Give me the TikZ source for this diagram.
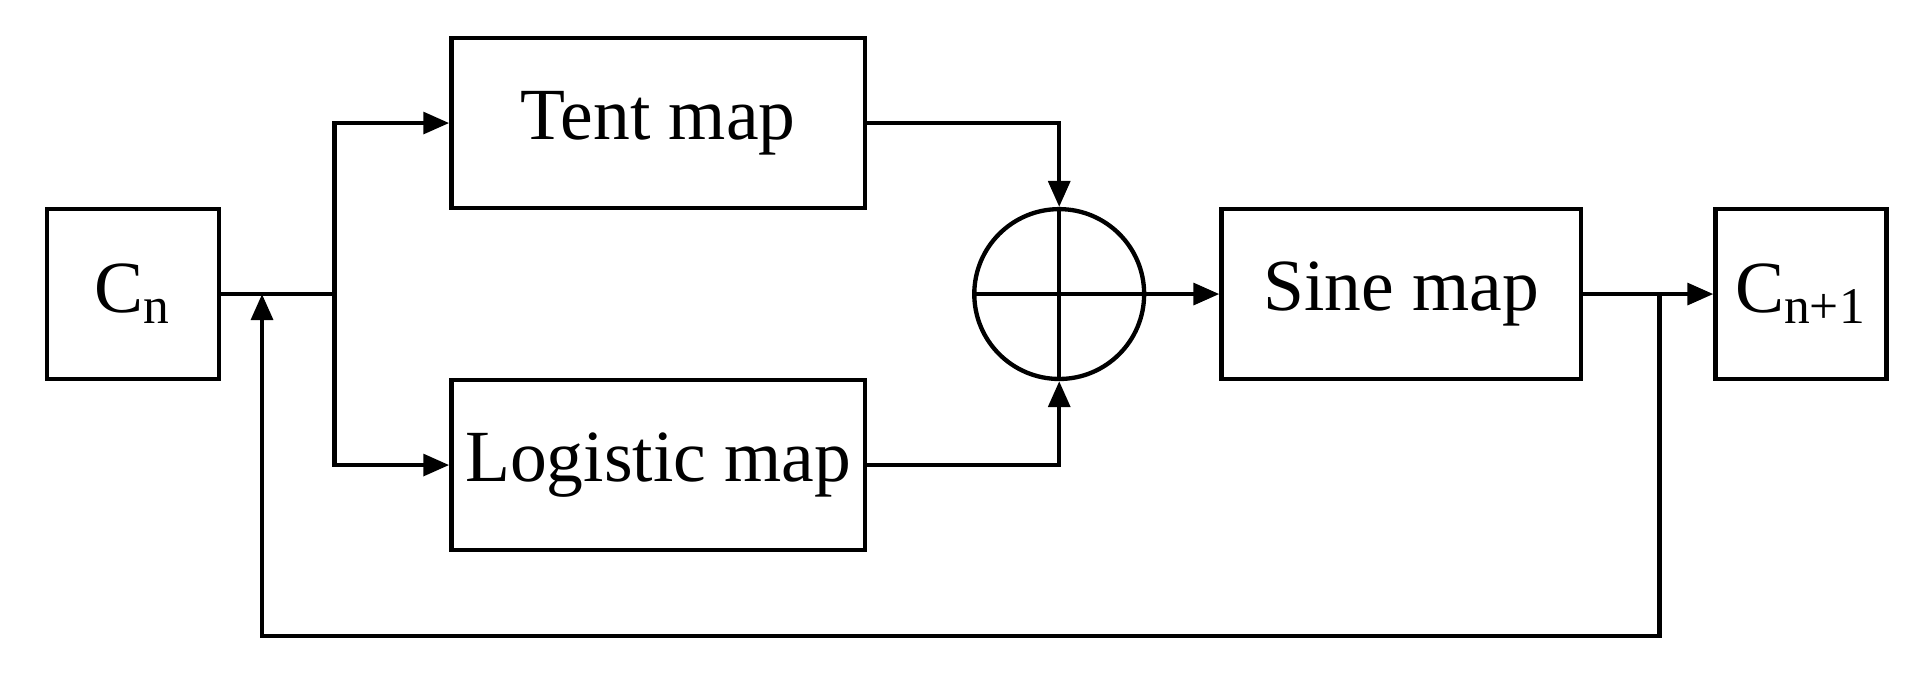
\documentclass[tikz,border=0pt]{standalone}
\usepackage{fontspec}
\setmainfont{Liberation Serif}
\usetikzlibrary{arrows.meta}
\begin{document}
\begin{tikzpicture}[x=0.01cm,y=-0.01cm,line width=1pt,
  box/.style={draw,rectangle,inner sep=0pt,font=\fontsize{17}{20}\selectfont},
  arr/.style={-{Triangle[length=6pt,width=5pt]}}]
\useasboundingbox (0,0) rectangle (1568,556);
\node[box,minimum width=1.40cm,minimum height=1.38cm] (cn) at (108,239) {C\textsubscript{n}};
\node[box,minimum width=3.36cm,minimum height=1.38cm] (tent) at (535,100) {Tent map};
\node[box,minimum width=3.36cm,minimum height=1.38cm] (log) at (535,378) {Logistic map};
\node[draw,circle,minimum size=1.38cm,inner sep=0pt] (sum) at (861,239) {};
\draw (sum.west) -- (sum.east) (sum.north) -- (sum.south);
\node[box,minimum width=2.92cm,minimum height=1.38cm] (sine) at (1139,239) {Sine map};
\node[box,minimum width=1.39cm,minimum height=1.38cm] (cn1) at (1464,239) {C\textsubscript{n+1}};
\coordinate (br) at (272,239);
\coordinate (fb) at (1349,239);
\coordinate (fi) at (213,239);
\draw (cn.east) -- (br);
\draw[arr] (br) |- (tent.west);
\draw[arr] (br) |- (log.west);
\draw[arr] (tent.east) -| (sum.north);
\draw[arr] (log.east) -| (sum.south);
\draw[arr] (sum.east) -- (sine.west);
\draw[arr] (sine.east) -- (cn1.west);
\draw[arr] (fb) -- (1349,517) -- (213,517) -- (fi);
\end{tikzpicture}
\end{document}
